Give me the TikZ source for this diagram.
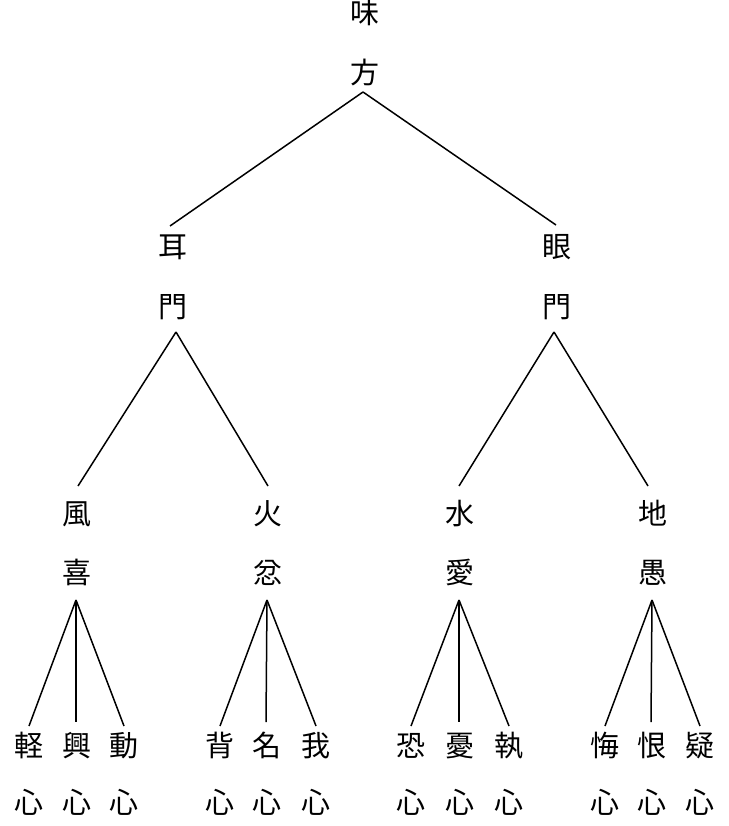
\documentclass[tikz,border=0pt]{standalone}
\usepackage{fontspec}
\newfontfamily\cjk{Noto Sans CJK JP}
\begin{document}
\begin{tikzpicture}[x=1pt,y=-1pt,
  ch/.style={inner sep=0pt,outer sep=0pt,font=\cjk\fontsize{29}{29}\selectfont,text height=1.42em,text depth=0.12em,anchor=center},
  edge/.style={line width=1.5pt,black}]
\useasboundingbox (0,0) rectangle (728,826);
% root
\node[ch] (r1) at (365,17) {味};
\node[ch] (r2) at (365,77) {方};
% level 1
\node[ch] (a1) at (173,251) {耳};
\node[ch] (a2) at (173,311) {門};
\node[ch] (b1) at (557,251) {眼};
\node[ch] (b2) at (557,311) {門};
% level 2
\node[ch] (c1) at (77,518) {風};
\node[ch] (c2) at (77,577) {喜};
\node[ch] (d1) at (268,518) {火};
\node[ch] (d2) at (268,577) {忿};
\node[ch] (e1) at (460,518) {水};
\node[ch] (e2) at (460,577) {愛};
\node[ch] (f1) at (653,518) {地};
\node[ch] (f2) at (653,577) {愚};
% leaves
\foreach \n/\x/\t in {c3/29/軽,c4/77/興,c5/124/動,
                      d3/220/背,d4/267/名,d5/316/我,
                      e3/411/恐,e4/460/憂,e5/509/執,
                      f3/605/悔,f4/652/恨,f5/700/疑}{
  \node[ch] (\n) at (\x,750) {\t};
  \node[ch] (\n s) at (\x,807) {心};
}
% connectors
\draw[edge] ([xshift=-2,yshift=-15]r2.center) -- ([xshift=-3,yshift=25]a1.center);
\draw[edge] ([xshift=-2,yshift=-15]r2.center) -- ([xshift=-1,yshift=26]b1.center);
\draw[edge] ([xshift=3,yshift=-21]a2.center) -- ([xshift=1,yshift=32]c1.center);
\draw[edge] ([xshift=3,yshift=-21]a2.center) -- ([yshift=32]d1.center);
\draw[edge] ([xshift=-3,yshift=-21]b2.center) -- ([xshift=-1,yshift=32]e1.center);
\draw[edge] ([xshift=-3,yshift=-21]b2.center) -- ([xshift=-5,yshift=32]f1.center);
\foreach \p/\a/\b/\c in {c2/c3/c4/c5,d2/d3/d4/d5,e2/e3/e4/e5,f2/f3/f4/f5}{
  \draw[edge] ([xshift=-1,yshift=-23]\p.center) -- ([yshift=24]\a.center);
  \draw[edge] ([xshift=-1,yshift=-23]\p.center) -- ([xshift=-1,yshift=28]\b.center);
  \draw[edge] ([xshift=-1,yshift=-23]\p.center) -- ([yshift=24]\c.center);
}
\end{tikzpicture}
\end{document}
